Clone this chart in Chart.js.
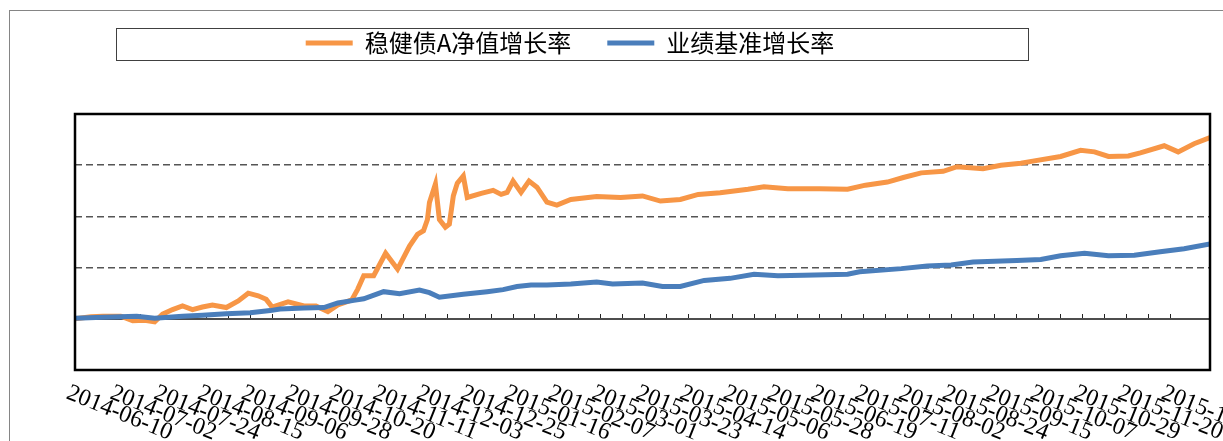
<!DOCTYPE html>
<html>
<head>
<meta charset="utf-8">
<script src="https://cdn.jsdelivr.net/npm/chart.js@4.4.1/dist/chart.umd.min.js"></script>
<style>
  html, body { margin: 0; padding: 0; background: #fff; }
  canvas { display: block; }
</style>
</head>
<body>
<canvas id="myChart" width="1223" height="441"></canvas>
<script>
const fundName = '稳健债A净值增长率';
const benchName = '业绩基准增长率';

// x = days since 2014-06-10, y = growth in %
const fundDays = [0, 8, 14, 23, 29, 35, 40, 44, 49, 54, 59, 64, 69, 76, 82, 87, 92, 96, 99, 107,
  115, 121, 127, 132, 139, 142, 145, 150, 156, 162, 168, 172, 175, 177, 178, 181, 183, 186, 188, 190,
  192, 195, 197, 204, 210, 214, 217, 220, 224, 228, 232, 237, 242, 249, 262, 274, 285, 294, 304, 313,
  324, 338, 346, 358, 374, 388, 397, 408, 416, 425, 436, 443, 456, 465, 475, 481, 495, 505, 512, 519,
  529, 535, 547, 554, 562, 570];
const fundRate = [0.0, 0.4, 0.5, 0.5, -0.4, -0.3, -0.6, 0.9, 1.8, 2.5, 1.8, 2.3, 2.7, 2.2, 3.5, 5.0, 4.5, 3.8, 2.3, 3.3,
  2.5, 2.5, 1.4, 2.7, 3.7, 5.8, 8.4, 8.4, 12.8, 9.7, 14.2, 16.5, 17.2, 19.4, 22.7, 26.3, 19.4, 17.9, 18.5, 24.0,
  26.5, 27.9, 23.7, 24.5, 25.1, 24.3, 24.7, 26.9, 24.7, 26.9, 25.7, 22.8, 22.2, 23.3, 23.9, 23.7, 24.0, 23.0, 23.3, 24.3,
  24.6, 25.3, 25.8, 25.4, 25.4, 25.3, 26.1, 26.7, 27.6, 28.5, 28.8, 29.7, 29.3, 30.0, 30.4, 30.8, 31.7, 32.9, 32.6, 31.7,
  31.8, 32.4, 33.8, 32.6, 34.2, 35.4];

const benchDays = [0, 14, 31, 40, 54, 64, 76, 88, 98, 103, 115, 125, 132, 140, 145, 155, 163, 173, 178, 183,
  195, 207, 215, 222, 229, 237, 249, 262, 270, 285, 295, 304, 316, 329, 341, 353, 366, 388, 394, 415,
  428, 440, 451, 473, 485, 495, 507, 519, 532, 545, 557, 570];
const benchRate = [0.1, 0.3, 0.5, 0.1, 0.5, 0.7, 1.0, 1.2, 1.6, 1.9, 2.1, 2.2, 3.1, 3.6, 3.9, 5.3, 4.9, 5.6, 5.1, 4.2,
  4.8, 5.3, 5.7, 6.3, 6.6, 6.6, 6.8, 7.2, 6.8, 7.0, 6.3, 6.3, 7.5, 7.9, 8.7, 8.4, 8.5, 8.7, 9.2, 9.8,
  10.3, 10.5, 11.1, 11.4, 11.6, 12.3, 12.8, 12.3, 12.4, 13.1, 13.7, 14.6];

const dateLabels = ['2014-06-10', '2014-07-02', '2014-07-24', '2014-08-15', '2014-09-06', '2014-09-28',
  '2014-10-20', '2014-11-11', '2014-12-03', '2014-12-25', '2015-01-16', '2015-02-07', '2015-03-01',
  '2015-03-23', '2015-04-14', '2015-05-06', '2015-05-28', '2015-06-19', '2015-07-11', '2015-08-02',
  '2015-08-24', '2015-09-15', '2015-10-07', '2015-10-29', '2015-11-20', '2015-12-12'];
const labelEvery = 22; // days between date labels
const tickEvery = 11;
const lastDay = 570;

const zip = (xs, ys) => xs.map((x, i) => ({ x: x, y: ys[i] }));

// frames, plot border and the slanted date labels
const decor = {
  id: 'decor',
  afterLayout(chart) {
    // move the legend up and left, into its framed box
    const lg = chart.legend;
    lg.left -= 35;
    lg.right -= 35;
    lg.top -= 49;
    lg.bottom -= 49;
  },
  beforeDraw(chart) {
    const ctx = chart.ctx;
    ctx.save();
    ctx.fillStyle = '#fff';
    ctx.fillRect(0, 0, chart.width, chart.height);
    ctx.strokeStyle = '#858585';
    ctx.lineWidth = 1;
    ctx.strokeRect(9.5, 10.5, chart.width + 20, chart.height + 20);
    ctx.strokeStyle = '#404040';
    ctx.strokeRect(116.5, 28.5, 912, 32);
    ctx.restore();
  },
  afterDatasetsDraw(chart) {
    const { ctx, chartArea: a } = chart;
    ctx.save();
    ctx.strokeStyle = '#000';
    ctx.lineWidth = 2.5;
    ctx.strokeRect(a.left, a.top, a.width, a.height);
    ctx.restore();
  },
  afterDraw(chart) {
    const { ctx, chartArea } = chart;
    const xs = chart.scales.x;
    ctx.save();
    ctx.font = '24px "Liberation Serif"';
    ctx.fillStyle = '#000';
    ctx.textAlign = 'left';
    ctx.textBaseline = 'top';
    dateLabels.forEach((t, i) => {
      const px = xs.getPixelForValue(i * labelEvery);
      ctx.save();
      ctx.translate(px - 3, chartArea.bottom + 11);
      ctx.rotate(22 * Math.PI / 180);
      ctx.fillText(t, 0, 0);
      ctx.restore();
    });
    ctx.restore();
  }
};

const myChart = new Chart(document.getElementById('myChart').getContext('2d'), {
  type: 'line',
  data: {
    datasets: [
      {
        label: fundName,
        data: zip(fundDays, fundRate),
        borderColor: '#F79646',
        backgroundColor: '#F79646',
        borderWidth: 5,
        pointRadius: 0,
        tension: 0,
        fill: false,
        order: 1,
      },
      {
        label: benchName,
        data: zip(benchDays, benchRate),
        borderColor: '#4A7EBB',
        backgroundColor: '#4A7EBB',
        borderWidth: 5,
        pointRadius: 0,
        tension: 0,
        fill: false,
        order: 0,
      },
    ],
  },
  options: {
    responsive: false,
    animation: false,
    devicePixelRatio: 1,
    layout: { padding: { left: 0, right: 13, top: 44, bottom: 0 } },
    plugins: {
      tooltip: { enabled: false },
      legend: {
        position: 'top',
        labels: {
          boxWidth: 47,
          boxHeight: 5,
          padding: 36,
          color: '#000',
          font: { family: '"Noto Sans CJK SC"', size: 24 },
          sort: (a, b) => a.datasetIndex - b.datasetIndex,
          generateLabels: chart =>
            Chart.defaults.plugins.legend.labels.generateLabels(chart).map(l => ({ ...l, lineWidth: 0 })),
        },
      },
    },
    scales: {
      x: {
        type: 'linear',
        min: 0,
        max: lastDay,
        ticks: { display: false },
        grid: { display: false },
        border: { display: false },
        afterFit: s => { s.height = 71; },
      },
      x2: {
        type: 'linear',
        axis: 'x',
        position: { y: 0 },
        min: 0,
        max: lastDay,
        ticks: { display: false, stepSize: tickEvery },
        grid: { drawOnChartArea: false, drawTicks: true, tickLength: -6, tickColor: '#222', tickWidth: 1 },
        border: { display: true, color: '#4d4d4d', width: 2 },
      },
      y: {
        min: -10,
        max: 40,
        ticks: { display: false, stepSize: 10 },
        grid: {
          drawTicks: false,
          lineWidth: 1.5,
          color: c => ([10, 20, 30].includes(c.tick.value) ? '#555' : 'rgba(0,0,0,0)'),
        },
        border: { display: false, dash: [7, 4] },
        afterFit: s => { s.width = 75; },
      },
    },
  },
  plugins: [decor],
});
</script>
</body>
</html>
